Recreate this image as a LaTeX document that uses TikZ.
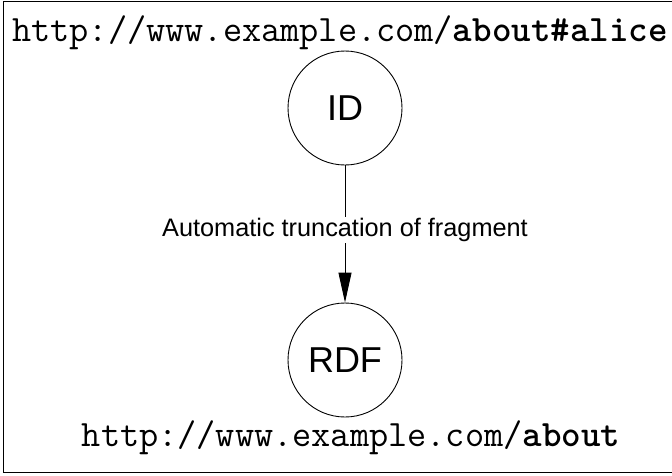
\documentclass[tikz,border=0pt]{standalone}
\usepackage{fontspec}
\newfontfamily\labelfont{Liberation Sans}
\usetikzlibrary{arrows.meta}
\tikzset{
  state/.style={circle, draw, line width=0.9pt, minimum size=114pt, inner sep=0pt,
    font=\labelfont\fontsize{36}{40}\selectfont},
  url/.style={inner sep=0pt, font=\ttfamily\fontsize{37.2}{40}\selectfont},
  edgelabel/.style={fill=white, inner sep=1pt, font=\labelfont\fontsize{25.3}{28}\selectfont},
  flow/.style={line width=0.9pt, -{Triangle[length=30pt, width=13pt]}}
}
\begin{document}
\begin{tikzpicture}[x=1pt, y=-1pt]
  \useasboundingbox (0,0) rectangle (672,475);
  % outer frame, running off the right edge
  \draw[line width=0.9pt] (680,1.5) -- (3,1.5) -- (3,472) -- (680,472);
  \node[url, anchor=base east] (top) at (668,41) {http://www.example.com/\textbf{about\#alice}};
  \node[state] (id) at (345,108) {ID};
  \node[state] (rdf) at (345,360) {RDF};
  \draw[flow] (id) -- node[edgelabel, pos=0.47] (lab) {Automatic truncation of fragment} (rdf);
  \node[url, anchor=base] (bottom) at (351,446) {http://www.example.com/\textbf{about}};
\end{tikzpicture}
\end{document}
